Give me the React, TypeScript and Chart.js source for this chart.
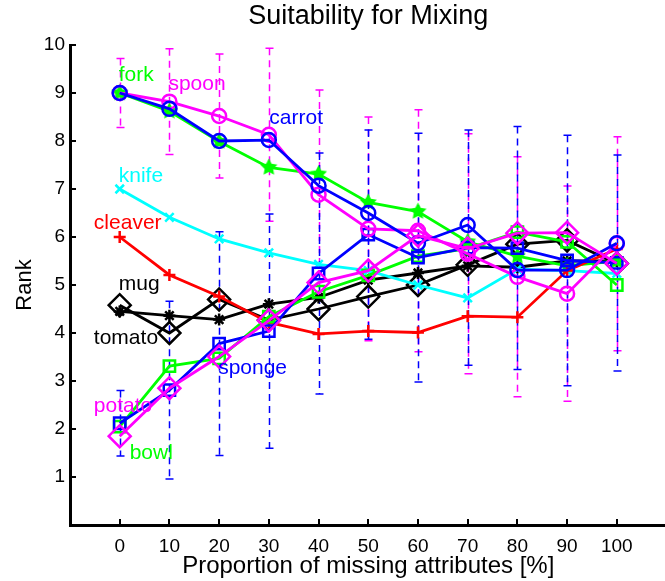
import React, { useEffect, useRef } from 'react';
import { Chart, registerables } from 'chart.js';

Chart.register(...registerables);

// ---------------- data ----------------
const xValues = [0, 10, 20, 30, 40, 50, 60, 70, 80, 90, 100];
const xTickValues = [0, 10, 20, 30, 40, 50, 60, 70, 80, 90, 100];
const yTickValues = [1, 2, 3, 4, 5, 6, 7, 8, 9, 10];

const fork = [9.0, 8.62, 7.99, 7.45, 7.31, 6.72, 6.53, 5.9, 5.6, 5.4, 5.5];
const spoon = [9.0, 8.82, 8.52, 8.13, 6.88, 6.17, 6.13, 5.65, 5.17, 4.82, 5.86];
const carrot = [9.0, 8.67, 8.0, 8.02, 7.07, 6.5, 5.87, 6.25, 5.31, 5.31, 5.87];
const knife = [7.0, 6.41, 5.96, 5.67, 5.43, 5.3, 5.0, 4.73, 5.33, 5.3, 5.24];
const cleaver = [6.0, 5.21, 4.76, 4.22, 3.98, 4.04, 4.01, 4.35, 4.33, 5.3, 5.75];
const mug = [4.45, 4.36, 4.28, 4.6, 4.74, 5.1, 5.25, 5.4, 5.37, 5.5, 5.5];
const tomato = [4.58, 4.0, 4.7, 4.27, 4.5, 4.76, 5.0, 5.42, 5.85, 5.93, 5.45];
const sponge = [2.12, 2.81, 3.78, 4.04, 5.24, 6.05, 5.57, 5.78, 5.77, 5.51, 5.46];
const potato = [1.85, 2.85, 3.51, 4.26, 5.05, 5.3, 6.03, 5.76, 6.08, 6.09, 5.45];
const bowl = [2.05, 3.31, 3.47, 4.34, 4.86, 5.2, 5.6, 5.76, 6.1, 5.9, 5.0];

const spoonErr = [0.72, 1.1, 1.29, 1.8, 2.18, 2.33, 2.52, 2.5, 2.5, 2.24, 2.23];
const spongeErr = [0.68, 1.85, 2.33, 2.44, 2.51, 2.18, 2.59, 2.45, 2.53, 2.61, 2.25];

const labelTexts = ['fork', 'spoon', 'carrot', 'knife', 'cleaver', 'mug', 'tomato', 'sponge', 'potato', 'bowl'];
const labelX = [-0.2, 9.8, 30.1, -0.2, -5.2, -0.2, -5.2, 19.8, -5.2, 2.0];
const labelY = [9.25, 9.06, 8.35, 7.15, 6.16, 4.9, 3.78, 3.14, 2.36, 1.375];

// ---------------- styles ----------------
const GREEN = '#00ff00';
const MAGENTA = '#ff00ff';
const BLUE = '#0000ff';
const CYAN = '#00ffff';
const RED = '#ff0000';
const BLACK = '#000000';
const labelColors = [GREEN, MAGENTA, BLUE, CYAN, RED, BLACK, BLACK, BLUE, MAGENTA, GREEN];
const FONT = "'Liberation Sans', Arial, Helvetica, sans-serif";

function makeStar(color: string, size: number) {
  const c = document.createElement('canvas');
  c.width = size;
  c.height = size;
  const ctx = c.getContext('2d')!;
  const cx = size / 2;
  const cy = size / 2;
  const R = size / 2 - 0.5;
  const r = R * 0.5;
  ctx.beginPath();
  for (let i = 0; i < 10; i++) {
    const a = -Math.PI / 2 + (i * Math.PI) / 5;
    const rad = i % 2 === 0 ? R : r;
    ctx.lineTo(cx + rad * Math.cos(a), cy + rad * Math.sin(a));
  }
  ctx.closePath();
  ctx.fillStyle = color;
  ctx.fill();
  return c;
}

const toPoints = (arr: number[]) => arr.map((v, i) => ({ x: xValues[i], y: v }));

const errorBarPlugin = {
  id: 'errorBars',
  beforeDatasetsDraw(chart: any) {
    const { ctx } = chart;
    const xs = chart.scales.x;
    const ys = chart.scales.y;
    const sets = [
      { vals: spoon, err: spoonErr, color: MAGENTA },
      { vals: sponge, err: spongeErr, color: BLUE },
    ];
    ctx.save();
    ctx.lineWidth = 1.5;
    for (const s of sets) {
      ctx.strokeStyle = s.color;
      xValues.forEach((xv, i) => {
        const px = Math.round(xs.getPixelForValue(xv)) + 0.5;
        const top = ys.getPixelForValue(s.vals[i] + s.err[i]);
        const bot = ys.getPixelForValue(s.vals[i] - s.err[i]);
        ctx.setLineDash([7, 5]);
        ctx.beginPath();
        ctx.moveTo(px, top);
        ctx.lineTo(px, bot);
        ctx.stroke();
        ctx.setLineDash([]);
        ctx.beginPath();
        ctx.moveTo(px - 4, top);
        ctx.lineTo(px + 4, top);
        ctx.moveTo(px - 4, bot);
        ctx.lineTo(px + 4, bot);
        ctx.stroke();
      });
    }
    ctx.restore();
  },
};

const annotationPlugin = {
  id: 'objLabels',
  afterDatasetsDraw(chart: any) {
    const { ctx } = chart;
    const xs = chart.scales.x;
    const ys = chart.scales.y;
    ctx.save();
    ctx.font = `21px ${FONT}`;
    ctx.textAlign = 'left';
    ctx.textBaseline = 'alphabetic';
    labelTexts.forEach((t, i) => {
      ctx.fillStyle = labelColors[i];
      ctx.fillText(t, xs.getPixelForValue(labelX[i]), ys.getPixelForValue(labelY[i]));
    });
    ctx.restore();
  },
};

const innerTicksPlugin = {
  id: 'innerTicks',
  afterDraw(chart: any) {
    const { ctx, chartArea } = chart;
    const xs = chart.scales.x;
    const ys = chart.scales.y;
    ctx.save();
    ctx.strokeStyle = BLACK;
    ctx.lineWidth = 2;
    ctx.beginPath();
    xTickValues.forEach((v) => {
      const px = Math.round(xs.getPixelForValue(v));
      ctx.moveTo(px, chartArea.bottom);
      ctx.lineTo(px, chartArea.bottom - 6);
    });
    yTickValues.forEach((v) => {
      const py = Math.round(ys.getPixelForValue(v));
      ctx.moveTo(chartArea.left, py);
      ctx.lineTo(chartArea.left + 6, py);
    });
    ctx.stroke();
    ctx.restore();
  },
};

export default function App() {
  const canvasRef = useRef<HTMLCanvasElement | null>(null);

  useEffect(() => {
    const canvas = canvasRef.current;
    if (!canvas) return;
    const forkStar = makeStar(GREEN, 19);

    const mk = (label: string, arr: number[], color: string, style: any, radius: number) => ({
      label,
      data: toPoints(arr),
      borderColor: color,
      backgroundColor: 'transparent',
      borderWidth: 2.8,
      pointStyle: style,
      pointRadius: radius,
      pointHoverRadius: radius,
      pointBorderColor: color,
      pointBackgroundColor: 'transparent',
      pointBorderWidth: 2.5,
      tension: 0,
      fill: false,
    });

    const chart = new Chart(canvas, {
      type: 'line',
      data: {
        datasets: [
          mk('potato', potato, MAGENTA, 'rectRot', 11),
          mk('carrot', carrot, BLUE, 'circle', 7),
          mk('spoon', spoon, MAGENTA, 'circle', 7),
          mk('sponge', sponge, BLUE, 'rect', 8),
          mk('bowl', bowl, GREEN, 'rect', 8),
          mk('cleaver', cleaver, RED, 'cross', 6),
          mk('fork', fork, GREEN, forkStar, 9),
          mk('knife', knife, CYAN, 'crossRot', 6),
          mk('mug', mug, BLACK, 'star', 6),
          mk('tomato', tomato, BLACK, 'rectRot', 11),
        ] as any,
      },
      options: {
        responsive: false,
        maintainAspectRatio: false,
        devicePixelRatio: 1,
        animation: false,
        layout: { padding: { left: 0, right: 8, top: 0, bottom: 0 } },
        plugins: {
          legend: { display: false },
          tooltip: { enabled: false },
          title: {
            display: true,
            text: 'Suitability for Mixing',
            color: BLACK,
            fullSize: false,
            font: { family: FONT, size: 27, weight: 'normal' },
            padding: { top: 0, bottom: 12.6 },
          },
        },
        scales: {
          x: {
            type: 'linear',
            min: -10,
            max: 110,
            grid: { display: false, drawTicks: false },
            border: { display: true, color: BLACK, width: 3 },
            afterBuildTicks: (scale: any) => {
              scale.ticks = xTickValues.map((v) => ({ value: v }));
            },
            afterFit: (scale: any) => {
              scale.height = 56;
            },
            ticks: {
              color: BLACK,
              autoSkip: false,
              maxRotation: 0,
              padding: 10,
              font: { family: FONT, size: 19 },
            },
            title: {
              display: true,
              text: 'Proportion of missing attributes [%]',
              color: BLACK,
              font: { family: FONT, size: 24 },
              padding: { top: 0, bottom: 0 },
            },
          },
          y: {
            type: 'linear',
            min: 0,
            max: 10,
            grid: { display: false, drawTicks: false },
            border: { display: true, color: BLACK, width: 3 },
            afterBuildTicks: (scale: any) => {
              scale.ticks = yTickValues.map((v) => ({ value: v }));
            },
            afterFit: (scale: any) => {
              scale.width = 70;
            },
            ticks: {
              color: BLACK,
              padding: 5,
              font: { family: FONT, size: 19 },
            },
            title: {
              display: true,
              text: 'Rank',
              color: BLACK,
              font: { family: FONT, size: 22 },
              padding: { top: 12, bottom: 0 },
            },
          },
        },
      } as any,
      plugins: [errorBarPlugin, annotationPlugin, innerTicksPlugin],
    });

    return () => chart.destroy();
  }, []);

  return (
    <div
      style={{
        position: 'fixed',
        left: 0,
        top: 0,
        width: 665,
        height: 581,
        overflow: 'hidden',
        background: '#ffffff',
      }}
    >
      <canvas ref={canvasRef} width={680} height={581} style={{ display: 'block' }} />
    </div>
  );
}
